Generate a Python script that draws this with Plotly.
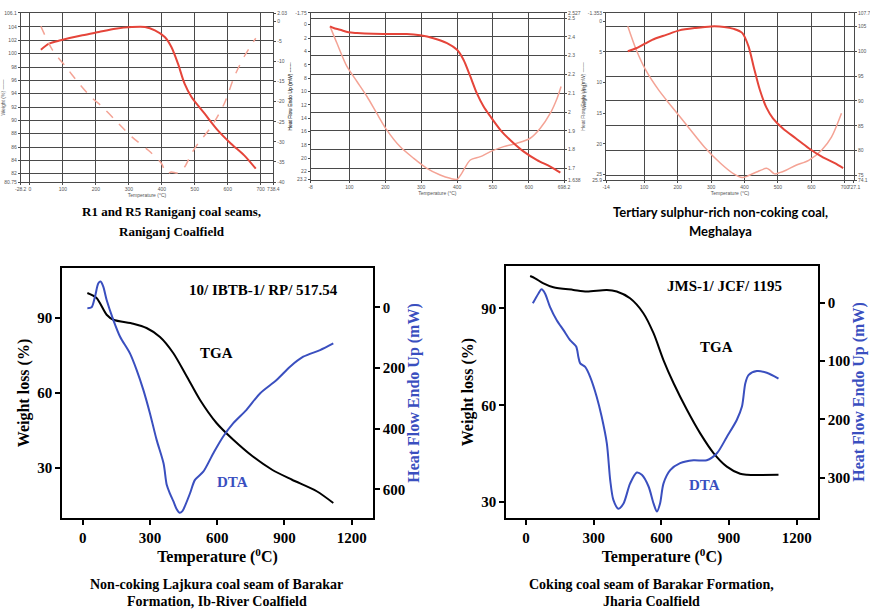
import plotly.graph_objects as go

# ---------------- DATA ----------------
# Panel A: R1 and R5 Raniganj (top-left)
a_tga_t = [33, 58, 93, 159, 209, 259, 309, 349, 379, 409, 429, 449, 469, 490, 530, 570, 610, 650, 685]
a_tga_w = [100.6, 101.5, 102, 102.75, 103.25, 103.75, 104, 104, 103.5, 102.5, 101, 98.5, 95.5, 93.5, 91, 88.5, 86.5, 84.75, 82.75]
a_dta_t = [33, 68, 108, 148, 184, 219, 259, 309, 359, 399, 414, 429, 449, 469, 490, 510, 550, 590, 620, 650, 685]
a_dta_h = [-1.25, -7.1, -11.25, -15.4, -18.75, -21.25, -24.6, -28.75, -32.1, -35.4, -37.9, -37.5, -37.75, -36.25, -32.9, -30.4, -26.25, -20.4, -13.75, -8.75, -4.2]

# Panel B: top-middle
b_tga_t = [46, 56, 74, 97, 121, 167, 214, 260, 297, 334, 372, 400, 418, 437, 455, 474, 493, 521, 548, 586, 623, 660, 688]
b_tga_w = [2.456, 2.447, 2.438, 2.424, 2.42, 2.416, 2.415, 2.415, 2.408, 2.393, 2.367, 2.331, 2.278, 2.189, 2.1, 2.029, 1.976, 1.904, 1.851, 1.789, 1.744, 1.709, 1.677]
b_dta_t = [46, 65, 93, 121, 149, 176, 204, 241, 279, 316, 353, 381, 400, 413, 437, 465, 493, 530, 567, 604, 632, 660, 679, 690]
b_dta_h = [0.25, 2.75, 6.25, 8.5, 10.75, 13.25, 15.75, 18.25, 20, 21.5, 22.5, 23, 23.15, 22.25, 20.25, 19.75, 19, 18.25, 17.75, 17, 15.5, 13.25, 11, 9.25]

# Panel C: Tertiary sulphur-rich, Meghalaya (top-right)
c_tga_t = [51, 76, 104, 124, 166, 205, 254, 300, 339, 368, 393, 412, 427, 446, 466, 485, 514, 553, 592, 631, 670, 695]
c_tga_w = [100, 100.6, 101.6, 102.3, 103.3, 104.2, 104.7, 105, 104.9, 104.5, 103.7, 101, 97, 92.2, 88.6, 86.5, 84.5, 82.5, 80.5, 78.8, 77.5, 76.5]
c_dta_t = [51, 76, 104, 143, 182, 231, 280, 329, 368, 393, 407, 436, 466, 476, 490, 505, 524, 554, 592, 631, 660, 690]
c_dta_h = [0.8, 4.6, 7.9, 11.2, 13.9, 17.2, 20.5, 23.2, 24.9, 25.5, 25.3, 24.6, 24.0, 24.3, 24.9, 24.7, 24.3, 23.5, 22.7, 21.0, 18.9, 15.0]

# Panel D: Non-coking Lajkura (bottom-left)
d_tga_t = [21, 62, 107, 137, 226, 285, 345, 404, 464, 523, 597, 672, 758, 845, 934, 1044, 1118]
d_tga_w = [100, 98, 91.3, 89.3, 87.7, 86, 82.4, 76, 66.7, 57.3, 48, 41.3, 34.7, 29.3, 25.3, 20.7, 16]
d_dta_t = [21, 40, 55, 70, 80, 92, 107, 137, 167, 211, 241, 271, 300, 330, 361, 375, 390, 405, 419, 432, 445, 458, 479, 501, 538, 583, 627, 672, 731, 791, 865, 925, 984, 1059, 1118]
d_dta_h = [3, 0, -35, -79, -85, -68, -24, 42, 97, 152, 207, 273, 349, 437, 515, 585, 615, 640, 665, 677, 672, 652, 613, 569, 542, 481, 426, 382, 338, 284, 240, 196, 163, 141, 119]

# Panel E: Coking coal, Jharia (bottom-right)
e_tga_t = [18, 40, 77, 121, 210, 269, 358, 402, 461, 520, 565, 609, 654, 713, 772, 831, 890, 949, 979, 1119]
e_tga_w = [100, 99.3, 97.7, 96.5, 95.7, 95.2, 95.7, 95.2, 93.1, 88.5, 82.3, 74, 66.8, 58.6, 51.3, 45.2, 41, 38.8, 38.5, 38.5]
e_dta_t = [30, 55, 69, 84, 106, 136, 166, 195, 222, 232, 240, 262, 284, 313, 335, 358, 373, 387, 409, 432, 461, 491, 513, 543, 565, 580, 594, 609, 639, 683, 742, 801, 846, 890, 934, 957, 972, 986, 1023, 1067, 1119]
e_dta_h = [1, -16, -23, -16, 7, 30, 47, 64, 75, 93, 104, 110, 127, 161, 195, 241, 304, 338, 353, 344, 310, 291, 295, 315, 344, 358, 344, 310, 287, 275, 270, 270, 258, 230, 201, 178, 138, 124, 117, 120, 130]

# Tick labels
a_xticks = [-28.2, 0, 100, 200, 300, 400, 500, 600, 700, 738.4]
a_yticks = [80.75, 82, 84, 86, 88, 90, 92, 94, 96, 98, 100, 102, 104, 106.1]
a_y2ticks = [-40, -35, -30, -25, -20, -15, -10, -5, 0, 2.03]
b_xticks = [-8, 100, 200, 300, 400, 500, 600, 698.2]
b_yticks = [-1.75, 0, 2, 4, 6, 8, 10, 12, 14, 16, 18, 20, 22, 23.2]
b_y2ticks = [1.638, 1.7, 1.8, 1.9, 2.0, 2.1, 2.2, 2.3, 2.4, 2.5, 2.527]
c_xticks = [-14, 100, 200, 300, 400, 500, 600, 700, 727.1]
c_yticks = [-1.353, 0, 5, 10, 15, 20, 25, 25.9]
c_y2ticks = [74.1, 75, 80, 85, 90, 95, 100, 105, 107.7]
bot_xticks = [0, 300, 600, 900, 1200]
d_yticks = [30, 60, 90]
d_y2ticks = [0, 200, 400, 600]
e_yticks = [30, 60, 90]
e_y2ticks = [0, 100, 200, 300]

# ---------------- STYLE ----------------
TGA_RED = "#e5453a"
DTA_PINK = "#f4a395"
BLUE = "#3a4fbf"
SERIF = "Liberation Serif"
SMALL = dict(family="Liberation Sans", size=5, color="#555")
GRID = "#4a4a4a"
SM = 0.8

fig = go.Figure()


def add_line(x, y, xa, ya, color, width, dash="solid"):
    fig.add_trace(go.Scatter(x=x, y=y, xaxis=xa, yaxis=ya, mode="lines", hoverinfo="skip",
                             line=dict(color=color, width=width, dash=dash, shape="spline", smoothing=SM),
                             showlegend=False))


add_line(a_tga_t, a_tga_w, "x", "y", TGA_RED, 2)
add_line(a_dta_t, a_dta_h, "x", "y2", DTA_PINK, 1.5, "dash")
add_line(b_tga_t, b_tga_w, "x2", "y4", TGA_RED, 2)
add_line(b_dta_t, b_dta_h, "x2", "y3", DTA_PINK, 1.5)
add_line(c_tga_t, c_tga_w, "x3", "y6", TGA_RED, 2)
add_line(c_dta_t, c_dta_h, "x3", "y5", DTA_PINK, 1.5)
add_line(d_tga_t, d_tga_w, "x4", "y7", "black", 2)
add_line(d_dta_t, d_dta_h, "x4", "y8", BLUE, 2)
add_line(e_tga_t, e_tga_w, "x5", "y9", "black", 2)
add_line(e_dta_t, e_dta_h, "x5", "y10", BLUE, 2)


def fmt(v):
    return ("%g" % v)


def top_x(dom, ticks, anchor):
    return dict(domain=dom, anchor=anchor, range=[ticks[0], ticks[-1]], tickmode="array",
                tickvals=ticks, ticktext=[fmt(v) for v in ticks], tickfont=SMALL, tickangle=0,
                showgrid=True, gridcolor=GRID, gridwidth=1, zeroline=False, automargin=False,
                showline=True, linecolor=GRID, linewidth=1, mirror=True,
                ticks="outside", ticklen=2, tickcolor=GRID,
                title=dict(text="Temperature (°C)", font=SMALL, standoff=2))


def top_y(dom, ticks, anchor, side, grid, rng, title, overlay=None):
    d = dict(anchor=anchor, side=side, range=rng, tickmode="array",
             tickvals=ticks, ticktext=[fmt(v) for v in ticks], tickfont=SMALL,
             showgrid=grid, gridcolor=GRID, gridwidth=1, zeroline=False, automargin=False,
             showline=True, linecolor=GRID, linewidth=1,
             ticks="outside", ticklen=2, tickcolor=GRID)
    if title:
        d["title"] = dict(text=title, font=SMALL, standoff=2)
    if overlay:
        d["overlaying"] = overlay
    else:
        d["domain"] = dom
    return d


top_ydom_a = [0.7016, 0.9787]
top_ydom_b = [0.7049, 0.9787]

bold_tick = dict(family=SERIF, size=15, color="black", weight="bold")


def bot_x(dom, anchor, rng):
    return dict(domain=dom, anchor=anchor, range=rng, tickmode="array", tickvals=bot_xticks,
                tickfont=bold_tick, ticks="outside", ticklen=5, tickwidth=1.5, tickcolor="black",
                showline=True, linecolor="black", linewidth=1.5, mirror=True,
                showgrid=False, zeroline=False, automargin=False,
                title=dict(text="Temperature (<sup>0</sup>C)", standoff=4,
                           font=dict(family=SERIF, size=16, color="black", weight="bold")))


def bot_y(dom, anchor, rng, ticks, side, title, color, overlay=None):
    d = dict(anchor=anchor, range=rng, tickmode="array", tickvals=ticks, side=side,
             tickfont=bold_tick, ticks="outside", ticklen=5, tickwidth=1.5, tickcolor="black",
             showline=True, linecolor="black", linewidth=1.5,
             showgrid=False, zeroline=False, automargin=False,
             title=dict(text=title, standoff=4,
                        font=dict(family=SERIF, size=16, color=color, weight="bold")))
    if overlay:
        d["overlaying"] = overlay
    else:
        d["domain"] = dom
    return d


layout = dict(
    width=870, height=610, margin=dict(l=0, r=0, t=0, b=0, autoexpand=False),
    paper_bgcolor="white", plot_bgcolor="white", showlegend=False,
    # Panel A
    xaxis=top_x([0.0238, 0.3142], a_xticks, "y"),
    yaxis=top_y(top_ydom_a, a_yticks, "x", "left", True, [80.75, 106.1], "Weight (%) ——"),
    yaxis2=top_y(None, a_y2ticks, "x", "right", False, [-40, 2.08], "Heat Flow Endo Up (mW) - - -", overlay="y"),
    # Panel B
    xaxis2=top_x([0.3571, 0.6483], b_xticks, "y3"),
    yaxis3=top_y(top_ydom_b, b_yticks, "x2", "left", False, [23.25, -1.75], "Heat Flow Endo Up (mW) ——"),
    yaxis4=top_y(None, b_y2ticks, "x2", "right", True, [1.638, 2.527], "Weight (mg)", overlay="y3"),
    # Panel C
    xaxis3=top_x([0.6966, 0.9815], c_xticks, "y5"),
    yaxis5=top_y(top_ydom_b, c_yticks, "x3", "left", False, [25.9, -1.353], "Heat Flow Endo Up (mW) ——"),
    yaxis6=top_y(None, c_y2ticks, "x3", "right", True, [74.1, 107.7], None, overlay="y5"),
    # Panel D
    xaxis4=bot_x([0.0713, 0.4287], "y7", [-92, 1295]),
    yaxis7=bot_y([0.1508, 0.5607], "x4", [10, 110], d_yticks, "left", "Weight loss (%)", "black"),
    yaxis8=bot_y(None, "x4", [694.6, -129.6], d_y2ticks, "right", "Heat Flow Endo Up (mW)", BLUE, overlay="y7"),
    # Panel E
    xaxis5=bot_x([0.5816, 0.9402], "y9", [-89, 1294]),
    yaxis9=bot_y([0.1508, 0.5639], "x5", [25.1, 103.1], e_yticks, "left", "Weight loss (%)", "black"),
    yaxis10=bot_y(None, "x5", [369, -63], e_y2ticks, "right", "Heat Flow Endo Up (mW)", BLUE, overlay="y9"),
)
fig.update_layout(**layout)

ann_font = dict(family=SERIF, size=15, color="black", weight="bold")
annots = [
    ("10/ IBTB-1/ RP/ 517.54", 0.3023, 0.5246, ann_font),
    ("TGA", 0.2494, 0.4213, ann_font),
    ("DTA", 0.2667, 0.2098, dict(ann_font, color=BLUE)),
    ("JMS-1/ JCF/ 1195", 0.8333, 0.5311, ann_font),
    ("TGA", 0.8241, 0.4311, ann_font),
    ("DTA", 0.8103, 0.2049, dict(ann_font, color=BLUE)),
]
cap_top = dict(family=SERIF, size=13, color="black", weight="bold")
cap_serif = dict(family=SERIF, size=14, color="black", weight="bold")
cap_sans = dict(family="Lato", size=13, color="black", weight="bold")
captions = [
    ("R1 and R5 Raniganj coal seams,", 0.1977, 0.6525, cap_top),
    ("Raniganj Coalfield", 0.1977, 0.6213, cap_top),
    ("Tertiary sulphur-rich non-coking coal,", 0.8276, 0.6525, cap_sans),
    ("Meghalaya", 0.8276, 0.6213, cap_sans),
    ("Non-coking Lajkura coal seam of Barakar", 0.2494, 0.042, cap_serif),
    ("Formation, Ib-River Coalfield", 0.2494, 0.0145, cap_serif),
    ("Coking coal seam of Barakar Formation,", 0.7494, 0.042, cap_serif),
    ("Jharia Coalfield", 0.7494, 0.0145, cap_serif),
]
for text, x, y, f in annots + captions:
    fig.add_annotation(text=text, x=x, y=y, xref="paper", yref="paper",
                       showarrow=False, font=f, xanchor="center", yanchor="middle")

fig.write_html("out.html", config={"displayModeBar": False},
               post_script="document.body.style.margin='0px';document.body.style.overflow='hidden';")
